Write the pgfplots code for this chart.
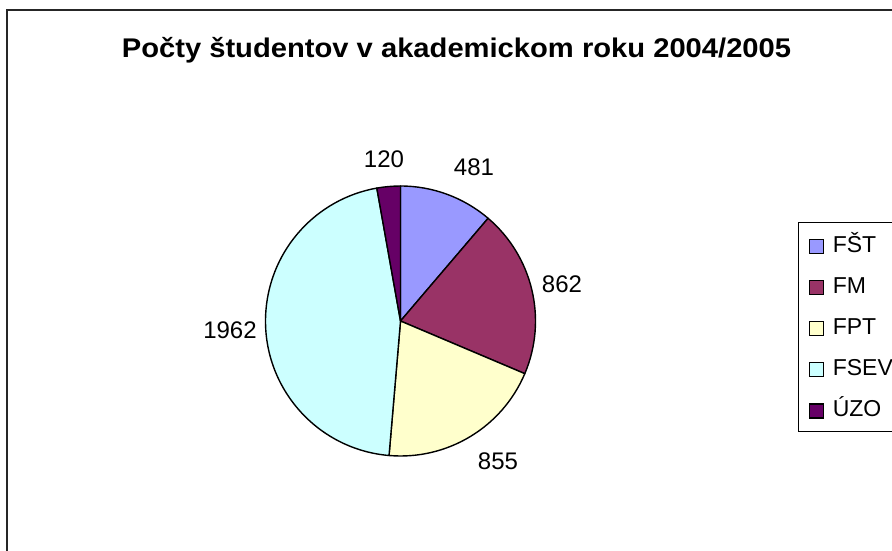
\documentclass[border=0pt]{standalone}
\usepackage{fontspec}
\setmainfont{Liberation Sans}
\usepackage{pgfplots}
\pgfplotsset{compat=1.18}
\usepackage{pgfplotstable}

\definecolor{cFST}{RGB}{153,153,255}
\definecolor{cFM}{RGB}{153,51,102}
\definecolor{cFPT}{RGB}{255,255,204}
\definecolor{cFSEV}{RGB}{204,255,255}
\definecolor{cUZO}{RGB}{102,0,102}

\pgfplotstableread{
faculty value
FST 481
FM 862
FPT 855
FSEV 1962
UZO 120
}\pietable

\pgfplotstablegetelem{0}{value}\of\pietable \let\vA\pgfplotsretval
\pgfplotstablegetelem{1}{value}\of\pietable \let\vB\pgfplotsretval
\pgfplotstablegetelem{2}{value}\of\pietable \let\vC\pgfplotsretval
\pgfplotstablegetelem{3}{value}\of\pietable \let\vD\pgfplotsretval
\pgfplotstablegetelem{4}{value}\of\pietable \let\vE\pgfplotsretval
\pgfmathsetmacro\tot{\vA+\vB+\vC+\vD+\vE}
\pgfmathsetmacro\aA{90}
\pgfmathsetmacro\aB{\aA-360*(\vA/\tot)}
\pgfmathsetmacro\aC{\aB-360*(\vB/\tot)}
\pgfmathsetmacro\aD{\aC-360*(\vC/\tot)}
\pgfmathsetmacro\aE{\aD-360*(\vD/\tot)}
\pgfmathsetmacro\aF{\aE-360*(\vE/\tot)}
\def\cx{400.5}\def\cy{229}\def\R{135}

\newcommand\slice[3]{\filldraw[fill=#3, draw=black, line width=1.4pt, line join=round]
  (axis cs:\cx,\cy) -- ++(#1:\R pt) arc[start angle=#1, end angle=#2, radius=\R pt] -- cycle;}

\begin{document}%
\begin{tikzpicture}
\begin{scope}
\clip (0,0) rectangle (892pt,550pt);
\fill[white] (0,0) rectangle (892pt,550pt);
\begin{axis}[
  x=1pt, y=1pt, xmin=0, xmax=892, ymin=0, ymax=550,
  scale only axis, hide axis, clip=false,
  at={(0,0)}, anchor=south west,
  legend cell align=left,
  legend image code/.code={\draw[#1, line width=1.2pt] (0pt,-1.5pt) rectangle (14pt,12.5pt);},
  legend style={at={(0.8946,0.5964)}, anchor=north west, draw=black, line width=1.2pt,
    fill=white, font=\fontsize{23}{23}\selectfont, inner xsep=10pt, inner ysep=13pt,
    row sep=22.5pt,
    nodes={inner sep=0pt, text height=16.5pt, text depth=0pt, anchor=base west},
    /tikz/every odd column/.append style={column sep=9pt}},
]
\addplot[draw=none, forget plot] coordinates {(0,0)};
\slice{\aA}{\aB}{cFST}
\slice{\aB}{\aC}{cFM}
\slice{\aC}{\aD}{cFPT}
\slice{\aD}{\aE}{cFSEV}
\slice{\aE}{\aF}{cUZO}
\node[font=\fontsize{24}{24}\selectfont, anchor=base] at (axis cs:474,374.5) {481};
\node[font=\fontsize{24}{24}\selectfont, anchor=base] at (axis cs:562,257.5) {862};
\node[font=\fontsize{24}{24}\selectfont, anchor=base] at (axis cs:498,80.5) {855};
\node[font=\fontsize{24}{24}\selectfont, anchor=base] at (axis cs:230,211.5) {1962};
\node[font=\fontsize{24}{24}\selectfont, anchor=base] at (axis cs:384,382.5) {120};
\node[font=\bfseries\fontsize{27}{27}\selectfont, anchor=base] at (axis cs:456.5,492.7) {\scalebox{1.08}[1]{Počty študentov v akademickom roku 2004/2005}};
\addlegendimage{fill=cFST, draw=black}\addlegendentry{FŠT}
\addlegendimage{fill=cFM, draw=black}\addlegendentry{FM}
\addlegendimage{fill=cFPT, draw=black}\addlegendentry{FPT}
\addlegendimage{fill=cFSEV, draw=black}\addlegendentry{FSEV}
\addlegendimage{fill=cUZO, draw=black}\addlegendentry{ÚZO}
\end{axis}
\draw[line width=2pt, black!85] (7pt,-30pt) rectangle (930pt,540pt);
\end{scope}
\pgfresetboundingbox
\useasboundingbox (0,0) rectangle (892pt,550pt);
\end{tikzpicture}%
\end{document}
